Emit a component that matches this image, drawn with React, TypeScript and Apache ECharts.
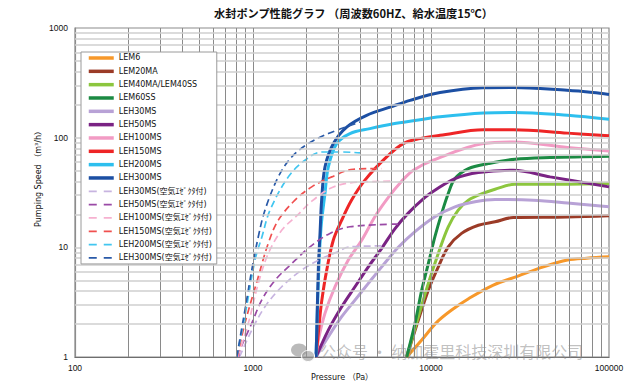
import React, { useEffect, useRef } from 'react';
import * as echarts from 'echarts';

const TITLE = '水封ポンプ性能グラフ （周波数60HZ、給水温度15℃）';
const X_NAME = 'Pressure （Pa）';
const Y_NAME = 'Pumping Speed （m³/h）';
const WATERMARK = '公众号 · 纳加霍里科技深圳有限公司';

// grid line positions (values on the log axes)
const xGridValues = [200, 300, 400, 500, 600, 700, 800, 900, 1000, 2000, 3000, 4000, 5000, 6000, 7000, 8000, 9000, 10000, 20000, 30000, 40000, 50000, 60000, 70000, 80000, 90000];
const yGridValues = [2, 3, 4, 5, 6, 7, 8, 9, 10, 20, 30, 40, 50, 60, 70, 80, 90, 100, 200, 300, 400, 500, 600, 700, 800, 900];

// [pressure Pa, pumping speed m3/h]
const lem6 = [[7300, 1], [8870, 1.43], [10800, 2.08], [13060, 2.68], [16330, 3.42], [22400, 4.53], [30800, 5.47], [42800, 6.64], [58500, 7.65], [75000, 7.97], [100000, 8.2]];
const lem20ma = [[7300, 1], [8490, 2.17], [9660, 4.07], [10990, 6.64], [12500, 10.1], [14850, 13.4], [18450, 15.9], [22900, 17.1], [29000, 18.7], [58500, 18.9], [100000, 19.4]];
const lem40 = [[7300, 1], [8490, 2.33], [9660, 4.69], [10990, 8.8], [12500, 15.4], [14220, 21.8], [16220, 26.9], [19700, 31.2], [22900, 33.9], [29600, 37.6], [46700, 37.6], [100000, 38.2]];
const lem60ss = [[7300, 1], [8130, 2.03], [8870, 4.07], [9660, 7.1], [10520, 12.5], [11480, 20.4], [12500, 31], [13640, 42.4], [16220, 52.3], [21000, 58], [29600, 63.6], [46700, 65.9], [100000, 67.7]];
const leh30ms = [[2260, 1], [2650, 1.53], [3150, 2.33], [3740, 3.3], [4445, 4.69], [5285, 6.64], [6550, 10], [8130, 13.9], [10520, 19], [13640, 23.4], [17660, 26], [22900, 27.3], [37600, 26.9], [58500, 25.4], [100000, 23.4]];
const leh50ms = [[2260, 1], [2650, 1.76], [3150, 2.87], [3740, 4.37], [4445, 6.64], [5285, 9.8], [6280, 14.8], [7450, 20.5], [9250, 28.5], [10520, 33.2], [13640, 42.4], [18450, 48.1], [29000, 50.5], [46700, 43.9], [100000, 35.6]];
const leh100ms = [[2260, 1], [2330, 1.43], [2537, 2.5], [2888, 4.37], [3430, 7.65], [4080, 11.6], [4840, 19], [5760, 28.5], [6840, 40], [7960, 50.5], [10300, 62.3], [19700, 88.3], [29000, 91.4], [58500, 81.3], [100000, 75.7]];
const leh150ms = [[2260, 1], [2355, 2.0], [2430, 3.2], [2595, 6.2], [2825, 11.6], [3150, 17.7], [3575, 26.9], [4255, 41], [5636, 66.7], [6985, 88.3], [8670, 98], [11240, 105], [19700, 118], [29000, 118], [58500, 110], [100000, 104]];
const leh200ms = [[2260, 1], [2330, 5], [2410, 15], [2537, 31], [2650, 54], [2950, 88], [3505, 109], [4540, 121], [6140, 134], [8300, 144], [11240, 155], [19700, 168], [29000, 170], [58500, 160], [100000, 147]];
const leh300ms = [[2260, 1], [2280, 1.64], [2330, 6.6], [2380, 13.4], [2430, 26.9], [2537, 54], [2825, 88], [3360, 125], [4350, 160], [5890, 190], [7630, 219], [11240, 258], [19600, 285], [28900, 287], [58100, 270], [81300, 258], [100000, 248]];
const leh30air = [[840, 1], [984, 1.76], [1167, 2.87], [1450, 4.37], [1877, 6.2], [2433, 7.9], [2890, 8.9], [3505, 10.1], [5280, 10.3]];
const leh50air = [[830, 1], [845, 1.16], [984, 2.03], [1119, 3.3], [1329, 5.0], [1649, 7.1], [2090, 10.1], [2705, 13.4], [3505, 15.4], [6570, 16.3]];
const leh100air = [[820, 1], [941, 2.03], [1071, 4.69], [1219, 8.8], [1449, 14.3], [1796, 20], [2090, 25.5], [2705, 34.4], [3505, 38.7], [6200, 40.1]];
const leh150air = [[815, 1], [901, 2.03], [1071, 5.39], [1219, 10.9], [1387, 17.7], [1721, 26.9], [2137, 35.6], [2770, 43.9], [3660, 51.5], [5280, 52.3]];
const leh200air = [[810, 1], [913, 2.68], [1026, 7.65], [1123, 12.5], [1246, 21.8], [1579, 43.9], [1960, 62.3], [2433, 74], [3205, 74], [3990, 72.6]];
const leh300air = [[810, 1], [901, 2.68], [984, 6.2], [1071, 12.5], [1167, 21.8], [1387, 43.9], [1649, 66.7], [2045, 88.3], [2650, 109], [3990, 139]];

const seriesNames = [
  'LEM6', 'LEM20MA', 'LEM40MA/LEM40SS', 'LEM60SS', 'LEH30MS', 'LEH50MS', 'LEH100MS', 'LEH150MS', 'LEH200MS', 'LEH300MS',
  'LEH30MS(空気ｴｾﾞｸﾀ付)', 'LEH50MS(空気ｴｾﾞｸﾀ付)', 'LEH100MS(空気ｴｾﾞｸﾀ付)', 'LEH150MS(空気ｴｾﾞｸﾀ付)', 'LEH200MS(空気ｴｾﾞｸﾀ付)', 'LEH300MS(空気ｴｾﾞｸﾀ付)',
];
const seriesData = [lem6, lem20ma, lem40, lem60ss, leh30ms, leh50ms, leh100ms, leh150ms, leh200ms, leh300ms, leh30air, leh50air, leh100air, leh150air, leh200air, leh300air];
const seriesColors = [
  '#f7982a', '#9b3b27', '#8cc63e', '#1b8a43', '#b8a2d6', '#7a2384', '#f29bc4', '#ee2526', '#2dbfee', '#1c4fa3',
  '#c7b4e0', '#9a4aa6', '#f6b1d0', '#f0504f', '#42c6f0', '#2a5aa8',
];
const seriesDashed = [false, false, false, false, false, false, false, false, false, false, true, true, true, true, true, true];

export default function App() {
  const ref = useRef<HTMLDivElement>(null);
  useEffect(() => {
    if (!ref.current) return;
    const chart = echarts.init(ref.current, undefined, { renderer: 'svg' });

    const curveSeries = seriesNames.map((name, i) => ({
      name,
      type: 'line',
      data: seriesData[i],
      symbol: 'none',
      smooth: 0.35,
      z: 3,
      lineStyle: {
        color: seriesColors[i],
        width: seriesDashed[i] ? 1.7 : 3,
        type: seriesDashed[i] ? [7, 4] : 'solid',
      },
      itemStyle: { color: seriesColors[i] },
    }));

    const gridSeries = {
      name: 'grid',
      type: 'line',
      data: [],
      z: 1,
      silent: true,
      markLine: {
        silent: true,
        symbol: ['none', 'none'],
        animation: false,
        label: { show: false },
        data: [
          ...xGridValues.map((v) => ({ xAxis: v, lineStyle: { color: '#8a8a8a', width: 1, type: 'solid' } })),
          ...yGridValues.map((v) => ({ yAxis: v, lineStyle: { color: '#cfcfcf', width: 1.6, type: 'solid' } })),
        ],
      },
    };

    chart.setOption({
      animation: false,
      backgroundColor: '#ffffff',
      title: {
        text: TITLE,
        left: 209,
        top: 2,
        textStyle: { fontSize: 11.2, fontWeight: 'bold', color: '#111', fontFamily: '"Noto Sans CJK JP", sans-serif' },
      },
      grid: {
        left: 75, right: 35, top: 28, bottom: 26,
        outerBoundsMode: 'none',
        containLabel: false,
        show: true, borderColor: '#8c8c8c', borderWidth: 1.2, backgroundColor: 'transparent',
      },
      legend: {
        orient: 'vertical',
        left: 81,
        top: 52,
        padding: [2, 5, 2, 6],
        itemWidth: 25,
        itemHeight: 8,
        itemGap: 5.33,
        backgroundColor: '#ffffff',
        borderColor: '#9a9a9a',
        borderWidth: 1,
        z: 10,
        itemStyle: { opacity: 0, borderWidth: 0 },
        textStyle: { fontSize: 8, color: '#111', fontFamily: '"DejaVu Sans", "Noto Sans CJK JP", sans-serif' },
        data: seriesNames.map((name, i) => ({
          name,
          itemStyle: { opacity: 0, borderWidth: 0 },
          lineStyle: seriesDashed[i] ? { type: [8, 7], width: 1.8 } : { width: 3.5 },
        })),
      },
      xAxis: {
        type: 'log',
        logBase: 10,
        min: 100,
        max: 100000,
        axisLine: { show: true, lineStyle: { color: '#6e6e6e', width: 1.2 } },
        axisTick: { show: false },
        splitLine: { show: false },
        axisLabel: {
          fontSize: 8.5,
          color: '#111',
          margin: 6,
          fontFamily: '"Liberation Sans", Arial, sans-serif',
          formatter: (v: number) => String(Math.round(v)),
        },
      },
      yAxis: {
        type: 'log',
        logBase: 10,
        min: 1,
        max: 1000,
        axisLine: { show: true, lineStyle: { color: '#8c8c8c', width: 1.2 } },
        axisTick: { show: false },
        splitLine: { show: false },
        axisLabel: {
          fontSize: 8.5,
          color: '#111',
          margin: 7,
          fontFamily: '"Liberation Sans", Arial, sans-serif',
          formatter: (v: number) => String(Math.round(v)),
        },
      },
      graphic: [
        {
          type: 'text',
          x: 38,
          y: 177,
          rotation: Math.PI / 2,
          style: {
            text: Y_NAME,
            align: 'center',
            verticalAlign: 'middle',
            fontSize: 8,
            fill: '#111',
            fontFamily: '"DejaVu Sans", "Noto Sans CJK JP", sans-serif',
          },
        },
        {
          type: 'text',
          x: 342,
          y: 377,
          style: {
            text: X_NAME,
            align: 'center',
            verticalAlign: 'middle',
            fontSize: 8,
            lineHeight: 9,
            fill: '#111',
            fontFamily: '"DejaVu Sans", "Noto Sans CJK JP", sans-serif',
          },
        },
        {
          type: 'ellipse',
          z: 20,
          shape: { cx: 299, cy: 350, rx: 8, ry: 6.5 },
          style: { fill: 'rgba(140,140,140,0.6)' },
        },
        {
          type: 'ellipse',
          z: 20,
          shape: { cx: 308, cy: 356, rx: 6.5, ry: 5.5 },
          style: { fill: 'rgba(150,150,150,0.6)', stroke: '#ffffff', lineWidth: 1 },
        },
        {
          type: 'text',
          z: 20,
          x: 320,
          y: 351,
          style: {
            text: WATERMARK,
            verticalAlign: 'middle',
            fontSize: 16,
            lineHeight: 16,
            fill: 'rgba(140,140,140,0.55)',
            fontFamily: '"Noto Sans CJK SC", sans-serif',
          },
        },
      ],
      series: [gridSeries, ...curveSeries],
    });

    return () => chart.dispose();
  }, []);

  return <div ref={ref} style={{ position: 'fixed', left: 0, top: 0, width: 644, height: 383 }} />;
}
